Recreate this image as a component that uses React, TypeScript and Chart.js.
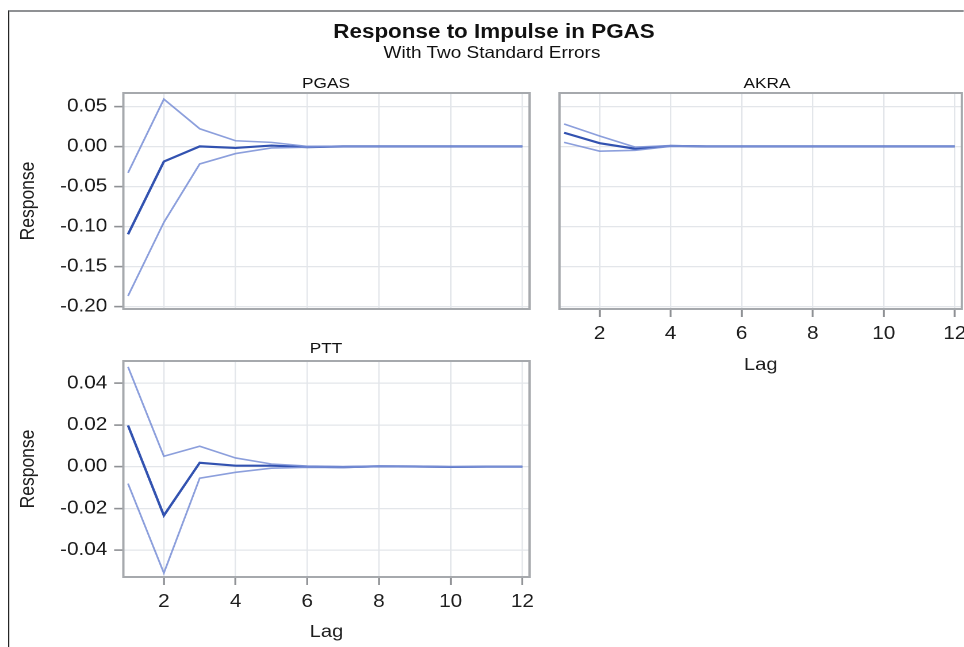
import { useEffect, useRef } from 'react';
import { Chart, registerables } from 'chart.js';

Chart.register(...registerables);

// lag index shared by all three panels
const lags = [1, 2, 3, 4, 5, 6, 7, 8, 9, 10, 11, 12];
const lagTicks = [2, 4, 6, 8, 10, 12];

// response of PGAS
const pgasResp = [-0.110, -0.019, 0.000, -0.002, 0.001, -0.001, 0, 0, 0, 0, 0, 0];
const pgasUpper = [-0.033, 0.059, 0.022, 0.007, 0.005, 0.000, 0, 0, 0, 0, 0, 0];
const pgasLower = [-0.187, -0.095, -0.022, -0.009, -0.002, -0.001, 0, 0, 0, 0, 0, 0];

// response of AKRA
const akraResp = [0.017, 0.004, -0.003, 0.0005, 0, 0, 0, 0, 0, 0, 0, 0];
const akraUpper = [0.028, 0.013, -0.001, 0.001, 0, 0, 0, 0, 0, 0, 0, 0];
const akraLower = [0.005, -0.006, -0.005, 0.000, 0, 0, 0, 0, 0, 0, 0, 0];

// response of PTT
const pttResp = [0.0198, -0.0234, 0.0019, 0.0005, 0.0005, 0.0, -0.0002, 0.0002, 0.0001, -0.0001, 0, 0];
const pttUpper = [0.0479, 0.005, 0.0098, 0.0042, 0.0013, 0.0003, 0.0001, 0.0003, 0.0002, 0, 0, 0];
const pttLower = [-0.0081, -0.051, -0.0055, -0.0027, -0.0007, -0.0003, -0.0004, 0.0001, 0, -0.0001, 0, 0];

const topRowTicks = [0.05, 0, -0.05, -0.1, -0.15, -0.2];
const pttTicks = [0.04, 0.02, 0, -0.02, -0.04];

// the reference is stretched sideways, so everything is laid out narrow and scaled
const SX = 1.15;
const px = (v: number) => v / SX;
const FONT = '"Liberation Sans", Arial, sans-serif';
const MAIN = '#3252b0';
const BAND = 'rgba(120,142,214,0.85)';
const GRID = '#e3e6ea';
const TICK = '#8e9094';
const TICK_SIZE = 18;

type Rect = { left: number; top: number; right: number; bottom: number };

interface PanelProps {
  region: Rect;
  box: Rect;
  resp: number[];
  upper: number[];
  lower: number[];
  yMin: number;
  yMax: number;
  yTicks: number[];
  yLabels: boolean;
  xLabels: boolean;
  lagY?: number;
}

function Panel({ region, box, resp, upper, lower, yMin, yMax, yTicks, yLabels, xLabels, lagY = 0 }: PanelProps) {
  const ref = useRef<HTMLCanvasElement>(null);
  const w = Math.round(px(region.right - region.left));
  const h = region.bottom - region.top;

  useEffect(() => {
    if (!ref.current) return;
    const boxPlugin = {
      id: 'panelBox',
      afterDatasetsDraw(chart: any) {
        const { ctx, chartArea: a } = chart;
        ctx.save();
        ctx.strokeStyle = '#a6a9ad';
        ctx.lineWidth = 2;
        ctx.strokeRect(a.left, a.top, a.right - a.left, a.bottom - a.top);
        ctx.restore();
      }
    };
    const pts = (arr: number[]) => lags.map((x, i) => ({ x, y: arr[i] }));
    const chart = new Chart(ref.current, {
      type: 'line',
      data: {
        datasets: [
          { label: 'upper', data: pts(upper), borderColor: BAND, borderWidth: 1.6, pointRadius: 0, tension: 0 },
          { label: 'lower', data: pts(lower), borderColor: BAND, borderWidth: 1.6, pointRadius: 0, tension: 0 },
          { label: 'response', data: pts(resp), borderColor: MAIN, borderWidth: 2.2, pointRadius: 0, tension: 0 }
        ]
      },
      plugins: [boxPlugin],
      options: {
        responsive: false,
        animation: false,
        devicePixelRatio: 2,
        layout: {
          padding: { top: box.top - region.top, right: px(region.right - box.right), left: 0, bottom: 0 }
        },
        plugins: {
          legend: { display: false },
          tooltip: { enabled: false },
          title: { display: false }
        },
        scales: {
          x: {
            type: 'linear',
            min: 0.87,
            max: 12.2,
            afterBuildTicks: (s: any) => {
              s.ticks = lagTicks.map(value => ({ value }));
            },
            afterFit: (s: any) => {
              s.height = region.bottom - box.bottom;
              s.paddingLeft = 0;
              s.paddingRight = 0;
            },
            grid: { color: GRID, lineWidth: 1.2, drawTicks: xLabels, tickLength: 8, tickColor: TICK, tickWidth: 1.6 },
            border: { display: false },
            ticks: {
              display: xLabels,
              padding: 6,
              maxRotation: 0,
              autoSkip: false,
              color: '#1e1e1e',
              font: { family: FONT, size: TICK_SIZE }
            },
            title: {
              display: xLabels,
              text: 'Lag',
              color: '#1e1e1e',
              font: { family: FONT, size: 17.5 },
              padding: { top: 0, bottom: region.bottom - lagY - 10.5 }
            }
          },
          y: {
            min: yMin,
            max: yMax,
            afterBuildTicks: (s: any) => {
              s.ticks = yTicks.map(value => ({ value }));
            },
            afterFit: (s: any) => {
              s.width = px(box.left - region.left);
              s.paddingTop = 0;
              s.paddingBottom = 0;
            },
            grid: { color: GRID, lineWidth: 1.2, drawTicks: yLabels, tickLength: 8, tickColor: TICK, tickWidth: 1.6 },
            border: { display: false },
            ticks: {
              display: yLabels,
              padding: 6,
              color: '#1e1e1e',
              font: { family: FONT, size: TICK_SIZE },
              callback: (v: any) => Number(v).toFixed(2)
            },
            title: {
              display: yLabels,
              text: 'Response',
              color: '#1e1e1e',
              font: { family: FONT, size: 17.5 },
              padding: { top: (28 - region.left) / SX - 10.5, bottom: 0 }
            }
          }
        }
      }
    });
    return () => chart.destroy();
  }, []);

  return (
    <canvas
      ref={ref}
      width={w}
      height={h}
      style={{ position: 'absolute', left: px(region.left), top: region.top, width: w, height: h }}
    />
  );
}

function Label({ text, cx, top, size, bold = false, lh }: { text: string; cx: number; top: number; size: number; bold?: boolean; lh: number }) {
  return (
    <div
      style={{
        position: 'absolute',
        left: px(cx - 250),
        width: px(500),
        top,
        textAlign: 'center',
        fontFamily: FONT,
        fontSize: size,
        lineHeight: `${lh}px`,
        fontWeight: bold ? 'bold' : 'normal',
        color: '#111',
        whiteSpace: 'nowrap'
      }}
    >
      {text}
    </div>
  );
}

export default function App() {
  return (
    <div style={{ position: 'fixed', left: 0, top: 0, width: 964, height: 647, background: '#fff', overflow: 'hidden' }}>
      <div style={{ position: 'absolute', left: 0, top: 0, width: px(964), height: 647, transform: `scaleX(${SX})`, transformOrigin: '0 0' }}>
        <div
          style={{
            position: 'absolute',
            left: px(8),
            top: 10,
            width: px(964 - 8),
            height: 637,
            borderTop: '2px solid #8f9194',
            borderLeft: `${px(2)}px solid #1c1c1c`,
            boxSizing: 'border-box'
          }}
        />
        <Label text="Response to Impulse in PGAS" cx={494} top={19} size={19.5} bold lh={24} />
        <Label text="With Two Standard Errors" cx={492} top={42} size={16.5} lh={20} />
        <Label text="PGAS" cx={326} top={73} size={15} lh={19} />
        <Label text="AKRA" cx={767} top={73} size={15} lh={19} />
        <Label text="PTT" cx={326} top={338} size={15} lh={19} />
        <Panel
          region={{ left: 10, top: 86, right: 540, bottom: 322 }}
          box={{ left: 123, top: 93, right: 529, bottom: 309 }}
          resp={pgasResp}
          upper={pgasUpper}
          lower={pgasLower}
          yMin={-0.2033}
          yMax={0.0667}
          yTicks={topRowTicks}
          yLabels
          xLabels={false}
        />
        <Panel
          region={{ left: 540, top: 86, right: 964, bottom: 392 }}
          box={{ left: 559, top: 93, right: 961, bottom: 309 }}
          resp={akraResp}
          upper={akraUpper}
          lower={akraLower}
          yMin={-0.2033}
          yMax={0.0667}
          yTicks={topRowTicks}
          yLabels={false}
          xLabels
          lagY={365}
        />
        <Panel
          region={{ left: 10, top: 352, right: 540, bottom: 647 }}
          box={{ left: 123, top: 361, right: 529, bottom: 577 }}
          resp={pttResp}
          upper={pttUpper}
          lower={pttLower}
          yMin={-0.0529}
          yMax={0.0507}
          yTicks={pttTicks}
          yLabels
          xLabels
          lagY={632}
        />
      </div>
    </div>
  );
}
